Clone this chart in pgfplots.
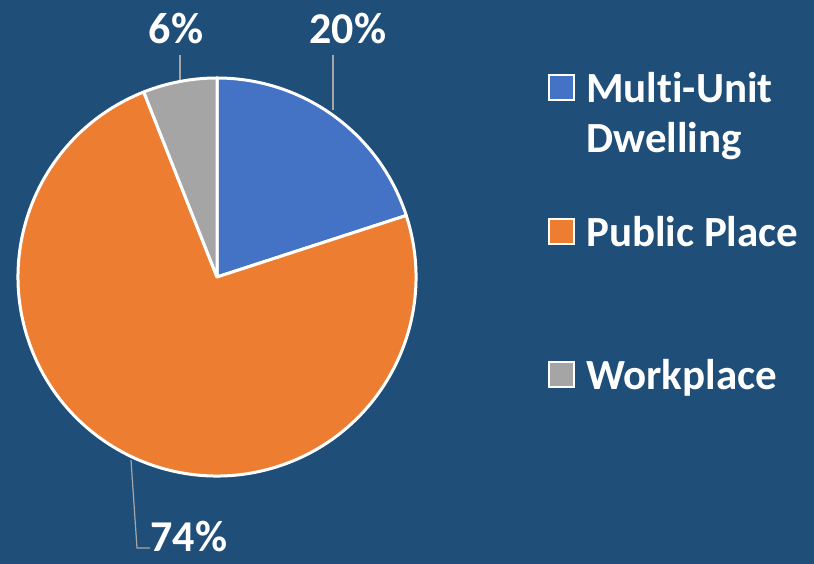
\documentclass[border=0pt]{standalone}
\usepackage{fontspec}
\setmainfont{Carlito}[Ligatures=NoCommon]
\usepackage{pgfplots}
\pgfplotsset{compat=1.18}
\usepackage{pgfplotstable}
\definecolor{bg}{HTML}{1F4E79}
\definecolor{c1}{HTML}{4472C4}
\definecolor{c2}{HTML}{ED7D31}
\definecolor{c3}{HTML}{A5A5A5}
\definecolor{lead}{HTML}{A6A6A6}

% slice values (percent), colour, label position
\pgfplotstableread{
value color labx laby
20 c1 348 520
74 c2 189 12
6  c3 176 520
}\piedata

\begin{document}
\begin{tikzpicture}
\begin{axis}[
    hide axis, scale only axis,
    width=814pt, height=564pt,
    xmin=0, xmax=814, ymin=0, ymax=564,
    clip=false,
    legend cell align=left,
    legend style={
        at={(axis cs:545,496)}, anchor=north west,
        draw=none, fill=none, text=white,
        font=\bfseries\fontsize{43}{50}\selectfont,
        row sep=108pt,
        /tikz/every odd column/.append style={column sep=9pt}
    },
    legend image code/.code={
        \filldraw[#1] (0pt,-12pt) rectangle (25pt,13pt);
    }
]
\fill[bg] (axis cs:0,0) rectangle (axis cs:814,564);
\addlegendimage{fill=c1, draw=white, line width=2pt}
\addlegendentry{\raisebox{0pt}[\height][0pt]{\vtop{\hbox{Multi-Unit}\hbox{Dwelling}}}}
\addlegendimage{fill=c2, draw=white, line width=2pt}
\addlegendentry{Public Place}
\addlegendimage{fill=c3, draw=white, line width=2pt}
\addlegendentry{Workplace}

\pgfplotsextra{
    \xdef\startangle{90}
    \foreach \i in {0,1,2} {
        \pgfplotstablegetelem{\i}{value}\of\piedata \let\v\pgfplotsretval
        \pgfplotstablegetelem{\i}{color}\of\piedata \let\c\pgfplotsretval
        \pgfplotstablegetelem{\i}{labx}\of\piedata \let\lx\pgfplotsretval
        \pgfplotstablegetelem{\i}{laby}\of\piedata \let\ly\pgfplotsretval
        \pgfmathsetmacro\sweep{3.6*\v}
        \filldraw[fill=\c, draw=white, line width=3pt, line join=round]
            (axis cs:217,287) -- ++(\startangle:199pt)
            arc[start angle=\startangle, delta angle=-\sweep, radius=199pt] -- cycle;
        \node[anchor=base, text=white, font=\bfseries\fontsize{44}{50}\selectfont]
            at (axis cs:\lx,\ly) {\v\%};
        \pgfmathsetmacro\na{\startangle-\sweep}
        \xdef\startangle{\na}
    }
}
% leader lines
\draw[lead, line width=1.2pt] (axis cs:180,484) -- (axis cs:180,509);
\draw[lead, line width=1.2pt] (axis cs:333,454) -- (axis cs:333,509);
\draw[lead, line width=1.2pt] (axis cs:131,104) -- (axis cs:137,16) -- (axis cs:150,16);
\end{axis}
\pgfresetboundingbox
\path (current axis.south west) rectangle (current axis.north east);
\end{tikzpicture}
\end{document}
